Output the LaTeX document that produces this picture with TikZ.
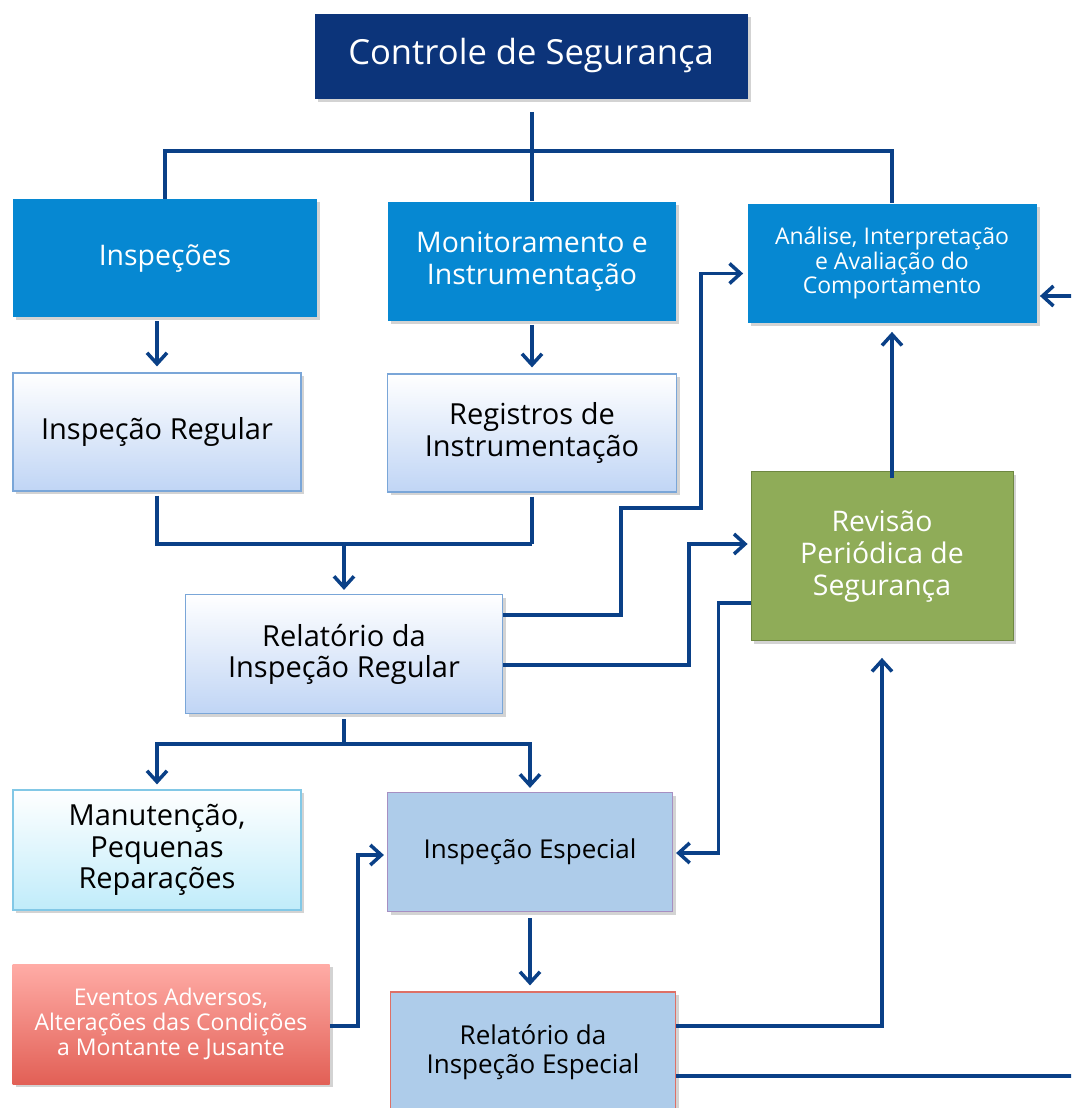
\documentclass[tikz,border=0pt]{standalone}
\usepackage{fontspec}
\setmainfont{Open Sans}
\usetikzlibrary{arrows.meta,shadows}

\definecolor{linkblue}{RGB}{10,64,135}
\definecolor{navybox}{RGB}{12,52,122}
\definecolor{midblue}{RGB}{6,136,210}
\definecolor{paleblue}{RGB}{192,213,245}
\definecolor{paleedge}{RGB}{122,166,216}
\definecolor{palecyan}{RGB}{192,236,250}
\definecolor{cyanedge}{RGB}{130,200,230}
\definecolor{skyfill}{RGB}{174,204,234}
\definecolor{lilacedge}{RGB}{166,143,194}
\definecolor{rededge}{RGB}{222,112,102}
\definecolor{greenbox}{RGB}{143,172,88}
\definecolor{greenedge}{RGB}{110,135,65}
\definecolor{redtop}{RGB}{255,172,166}
\definecolor{redbottom}{RGB}{226,96,86}

\begin{document}
\begin{tikzpicture}[x=0.5pt, y=-0.5pt,
    link/.style={draw=linkblue, line width=1.75pt},
    arr/.style={link, -{Straight Barb[length=5.5pt, width=10pt, line width=1.75pt]}},
    shadowed/.style={drop shadow={shadow xshift=1.5pt, shadow yshift=-1.5pt, opacity=0.35}},
    darkbox/.style={rectangle, inner sep=0pt, align=center, text=white, shadowed},
    flatbox/.style={rectangle, inner sep=0pt, align=center, text=black, shadowed,
      line width=0.6pt},
    lightbox/.style={flatbox, top color=white, bottom color=paleblue, draw=paleedge},
    bigfont/.style={font=\fontsize{17.3}{19}\selectfont},
    whitefont/.style={font=\fontsize{14.2}{16}\selectfont},
    midfont/.style={font=\fontsize{14.5}{15.6}\selectfont},
    skyfont/.style={font=\fontsize{13}{14.5}\selectfont},
    smallfont/.style={font=\fontsize{11.5}{12.3}\selectfont}]

  \clip (0,0) rectangle (1071,1108);

  % Top
  \node [darkbox, bigfont, fill=navybox, minimum width=216.5pt,
    minimum height=42.5pt] (ctrl) at (531,56) {Controle de Segurança};

  % Branches
  \node [darkbox, whitefont, fill=midblue, minimum width=152pt,
    minimum height=59pt] (insp) at (165,258) {Inspeções};
  \node [darkbox, whitefont, fill=midblue, minimum width=144pt,
    minimum height=59.5pt] (mon) at (532,261)
    {Monitoramento e\\Instrumentação};
  \node [darkbox, smallfont, fill=midblue, minimum width=144.5pt,
    minimum height=59.5pt] (anal) at (892,263)
    {Análise, Interpretação\\e Avaliação do\\Comportamento};

  % Records
  \node [lightbox, midfont, minimum width=144pt, minimum height=59pt]
    (ireg) at (157,432) {Inspeção Regular};
  \node [lightbox, midfont, minimum width=144.5pt, minimum height=59pt]
    (reg) at (532,433) {Registros de\\Instrumentação};
  \node [lightbox, midfont, minimum width=158.5pt, minimum height=59.5pt]
    (rir) at (344,654) {Relatório da\\Inspeção Regular};

  % Review
  \node [darkbox, whitefont, fill=greenbox, draw=greenedge, minimum width=131pt,
    minimum height=84.5pt] (rev) at (882,556)
    {Revisão\\Periódica de\\Segurança};

  % Lower boxes
  \node [flatbox, midfont, top color=white, bottom color=palecyan,
    draw=cyanedge, minimum width=144pt, minimum height=60pt] (man)
    at (157,850) {Manutenção,\\Pequenas\\Reparações};
  \node [flatbox, skyfont, fill=skyfill, draw=lilacedge, minimum width=142.5pt,
    minimum height=59.5pt] (iesp) at (530,852) {Inspeção Especial};
  \node [darkbox, smallfont, top color=redtop, bottom color=redbottom,
    minimum width=158.5pt, minimum height=60pt] (evt) at (171,1024)
    {Eventos Adversos,\\Alterações das Condições\\a Montante e Jusante};
  \node [flatbox, skyfont, fill=skyfill, draw=rededge, minimum width=142.5pt,
    minimum height=60pt] (rie) at (533,1052)
    {Relatório da\\Inspeção Especial};

  \coordinate (bus) at (531,151);
  \coordinate (join) at (344,544);
  \coordinate (split) at (344,744);
  \coordinate (loop) at (1095,600);

  % Edges from the top
  \draw [link, shorten <=6.5pt] (mon.north |- ctrl.south) -- (mon.north);
  \draw [link] (insp.north) -- (insp.north |- bus) -- (anal.north |- bus)
        -- (anal.north);
  \draw [arr, shorten <=2pt, shorten >=3pt] (ireg.north |- insp.south)
        -- (ireg.north);
  \draw [arr, shorten <=2pt, shorten >=3pt] (mon.south) -- (reg.north);

  % Edges to the report
  \draw [link, shorten <=2pt] (ireg.south) -- (ireg.south |- join)
        -- (reg.south |- join);
  \draw [link, shorten <=2pt] (reg.south) -- (reg.south |- join);
  \draw [arr, shorten >=2pt] (join) -- (rir.north);

  % Edges from the report
  \draw [arr, shorten >=2pt] ([yshift=19.5pt]rir.east) -- ++(118,0)
        -- ++(0,-107) -- ++(80,0) |- ([yshift=-5.25pt]anal.west);
  \draw [arr, shorten >=1.5pt] ([yshift=-5.5pt]rir.east) -- ++(186,0)
        |- ([yshift=6pt]rev.west);
  \draw [link, shorten <=2.5pt] (rir.south) -- (split);
  \draw [arr, shorten >=2.5pt] (split) -| (man.north);
  \draw [arr, shorten >=2pt] (split) -| (iesp.north);

  % Review loop
  \draw [arr, shorten <=-3.5pt, shorten >=4.5pt] (anal.south |- rev.north)
        -- (anal.south);
  \draw [arr, shorten >=1.5pt] ([yshift=-23.5pt]rev.west) -- ++(-32,0)
        |- ([yshift=-0.5pt]iesp.east);

  % Special inspection
  \draw [arr, shorten >=1.5pt] ([yshift=-1pt]evt.east) -- ++(28,0)
        |- ([yshift=-1.5pt]iesp.west);
  \draw [arr, shorten <=3pt, shorten >=3pt] (iesp.south)
        -- (iesp.south |- rie.north);
  \draw [arr, shorten >=8.5pt] ([yshift=13pt]rie.east) -| (rev.south);
  \draw [arr, shorten >=1.5pt] ([yshift=-12pt]rie.east) -| (loop)
        |- ([yshift=-16.5pt]anal.east);
\end{tikzpicture}
\end{document}
